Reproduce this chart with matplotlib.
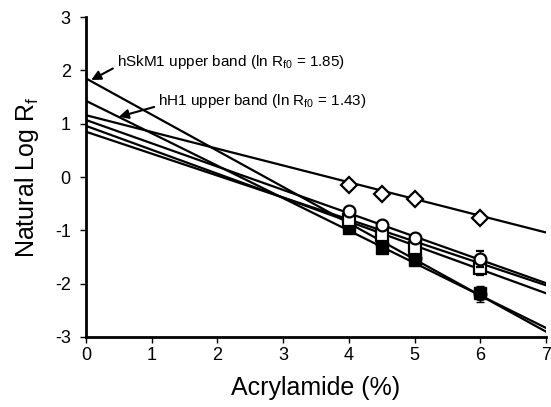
import numpy as np
import matplotlib.pyplot as plt

plt.rcParams['font.family'] = ['Liberation Sans', 'DejaVu Sans']
plt.rcParams['axes.unicode_minus'] = False

# Acrylamide concentrations (%)
acrylamide = [4, 4.5, 5, 6]

# Natural log Rf values per band
diamond_y = [-0.14, -0.31, -0.42, -0.76]
open_circle_y = [-0.63, -0.90, -1.14, -1.53]
open_circle_err = [0.05, 0.05, 0.06, 0.15]
open_square_y = [-0.80, -1.08, -1.33, -1.71]
open_square_err = [0.05, 0.05, 0.06, 0.12]
filled_square_y = [-0.95, -1.33, -1.56, -2.18]
filled_circle_y = [-0.90, -1.25, -1.52, -2.20]
filled_circle_err = [0.05, 0.05, 0.06, 0.15]

# Fitted lines: value at 0% and at 7% acrylamide
fit_start = [1.16, 1.85, 1.43, 1.07, 0.96, 0.85]
fit_end = [-1.04, -2.90, -2.83, -1.99, -2.18, -2.03]

fig = plt.figure(figsize=(5.51, 4.07), dpi=100)
ax = fig.add_axes([0.156, 0.172, 0.835, 0.786])

# Regression lines
for y0, y7 in zip(fit_start, fit_end):
    ax.plot([0, 7], [y0, y7], color='black', linewidth=1.6, zorder=2)

# Data points
ax.errorbar(acrylamide, filled_circle_y, yerr=filled_circle_err, fmt='o', color='black',
            mfc='black', ms=9, capsize=3, elinewidth=1, zorder=3)
ax.plot(acrylamide, filled_square_y, 's', color='black', mfc='black', ms=8.5, zorder=4)
ax.errorbar(acrylamide, open_square_y, yerr=open_square_err, fmt='s', color='black',
            mfc='white', mew=1.6, ms=8, capsize=3, elinewidth=1, zorder=5)
ax.errorbar(acrylamide, open_circle_y, yerr=open_circle_err, fmt='o', color='black',
            mfc='white', mew=1.6, ms=8.5, capsize=3, elinewidth=1, zorder=6)
ax.plot(acrylamide, diamond_y, 'D', color='black', mfc='white', mew=1.6, ms=8.5, zorder=6)

# Annotations (arrows leave from the lower left of the text)
arrow = dict(arrowstyle='-|>', color='black', lw=1.5, mutation_scale=14,
             shrinkA=1, shrinkB=0, relpos=(0, 0.25))
ax.annotate('hSkM1 upper band (ln R$_{\\mathregular{f0}}$ = 1.85)', xy=(0.08, 1.82), xytext=(0.47, 2.16),
            fontsize=11, va='center', arrowprops=arrow)
ax.annotate('hH1 upper band (ln R$_{\\mathregular{f0}}$ = 1.43)', xy=(0.5, 1.13), xytext=(1.1, 1.42),
            fontsize=11, va='center', arrowprops=arrow)

# Axes styling
ax.set_xlim(0, 7)
ax.set_ylim(-3, 3)
ax.set_xticks(range(0, 8))
ax.set_yticks(range(-3, 4))
ax.spines['top'].set_visible(False)
ax.spines['right'].set_visible(False)
ax.spines['left'].set_linewidth(2)
ax.spines['bottom'].set_linewidth(2)
ax.tick_params(direction='out', length=4, width=1, labelsize=13)
ax.tick_params(axis='y', pad=7)
ax.set_xlabel('Acrylamide (%)', fontsize=18, labelpad=8)
ax.set_ylabel('Natural Log R$_{\\mathregular{f}}$', fontsize=18, labelpad=10)

plt.savefig('out.png', dpi=100)
